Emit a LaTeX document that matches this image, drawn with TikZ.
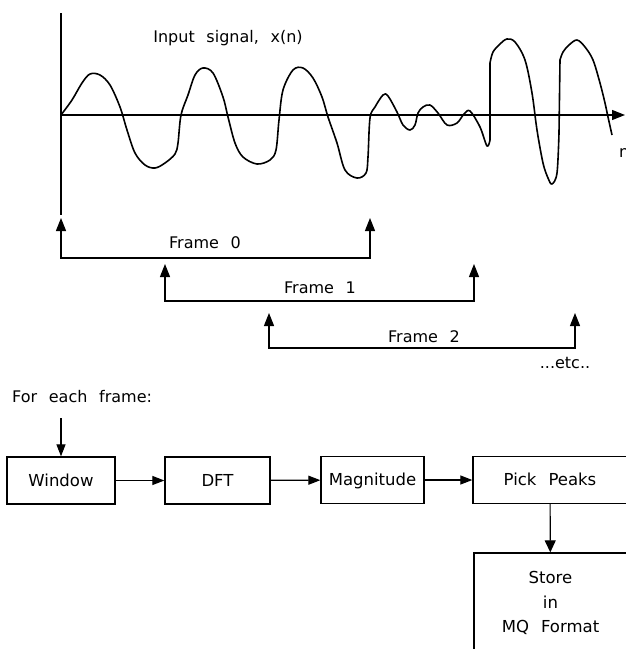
\documentclass[tikz,border=0pt]{standalone}
\usepackage{fontspec}
\setmainfont[WordSpace=2.3]{DejaVu Sans}
\usepackage{tikz}
\usetikzlibrary{arrows.meta}
\tikzset{
  %% ── Boites ───────────────────────────────────────────────────────────
  %% Une seule sorte de boite : trait noir, texte centre.
  bloc/.style        = {draw=black, line width=1.3pt, minimum height=47pt,
                        inner sep=2pt, align=center,
                        font=\fontsize{16.5}{24.5}\selectfont},
  blocLigne/.style   = {bloc, text height=14pt, text depth=3pt},
  %%
  %% ── Fleches ──────────────────────────────────────────────────────────
  fleche/.style      = {-{Triangle[length=12pt, width=9pt]}, line width=1.2pt},
  flecheCadre/.style = {{Triangle[length=13pt, width=10pt]}-{Triangle[length=13pt, width=10pt]},
                        line width=1.1pt},
  axe/.style         = {line width=1.3pt},
  trace/.style       = {line width=1.6pt, line join=round, smooth, tension=0.55},
  %%
  %% ── Texte ────────────────────────────────────────────────────────────
  etiquette/.style   = {font=\fontsize{16}{19}\selectfont, inner sep=0pt},
}

\begin{document}
\begin{tikzpicture}[x=1pt, y=-1pt]

\useasboundingbox (0,0) rectangle (626,649);
\fill[white] (0,0) rectangle (626,649);
\clip (0,0) rectangle (626,649);

%% Les axes du signal.
\coordinate (haut) at (61,13);
\coordinate (bas) at (61,215);
\coordinate (origine) at (61,115);
\coordinate (finAxe) at (625,115);
\draw[axe] (haut) -- (bas);
\draw[axe, -{Triangle[length=13pt, width=10pt]}] (origine) -- (finAxe);
\node[etiquette, anchor=west] (temps) at (619,153) {n};
\node[etiquette] (titreSignal) at (228,38) {Input signal, x(n)};

%% Le signal x(n), en trois morceaux (deux montees presque verticales).
\draw[trace] plot coordinates {(61,115) (72,100) (82,83) (90,74) (100,75)
  (110,85) (120,107) (127,130) (135,153) (145,165) (155,168) (165,163)
  (175,154) (178,143) (181,115) (188,95) (195,75) (203,68) (213,73)
  (223,97) (228,117) (235,143) (243,157) (257,164) (270,160) (276,150)
  (279,120) (283,90) (293,70) (303,68) (313,78) (322,97) (328,117)
  (337,143) (345,170) (357,178) (366,173) (368,157) (370,118) (375,107)
  (383,95) (388,96) (397,112) (403,125) (410,130) (415,125) (418,113)
  (423,107) (430,105) (438,113) (447,125) (457,123) (464,114) (470,111)
  (480,127) (487,146) (490,140)};
\draw[trace] (490,140) -- (490,63);
\draw[trace] plot coordinates {(490,63) (493,52) (500,44) (507,39) (515,42)
  (525,60) (532,93) (537,130) (543,163) (548,178) (552,184) (557,173)
  (559,133)};
\draw[trace] (559,133) -- (560,60);
\draw[trace] plot coordinates {(560,60) (563,52) (569,45) (577,40) (585,47)
  (593,60) (600,83) (605,103) (608,117) (612,135)};

%% Les trames qui se chevauchent.
\foreach \i/\xg/\xd/\yh/\yb/\xl/\yl in {0/61/370/218/258/205/243,
                                        1/165/474/264/301/320/288,
                                        2/269/575/313/348/424/337} {
  \coordinate (cadre\i g) at (\xg,\yh);
  \coordinate (cadre\i d) at (\xd,\yh);
  \coordinate (cadre\i b) at (\xd,\yb);
  \draw[flecheCadre] (cadre\i g) |- (cadre\i b) -- (cadre\i d);
  \node[etiquette] (titre\i) at (\xl,\yl) {Frame \i};
}
\node[etiquette] (suite) at (565,363) {...etc..};

%% La chaine de traitement, pour chaque trame.
\node[etiquette, anchor=west] (pourChaque) at (12,397) {For each frame:};
\node[blocLigne, minimum width=108pt] (fenetre) at (61,480.5) {Window};
\node[blocLigne, minimum width=105pt] (tfd) at (217.5,480.5) {DFT};
\node[blocLigne, minimum width=103pt] (module) at (372.5,480) {Magnitude};
\node[blocLigne, minimum width=154pt] (pics) at (550,480) {Pick Peaks};
\node[bloc, minimum width=153pt, minimum height=100pt] (stockage) at (550.5,603)
     {Store\\in\\MQ Format};

\coordinate (entree) at (61,418);
\draw[fleche] (entree) -- (fenetre.north);
\foreach \a/\b in {fenetre/tfd, tfd/module, module/pics}
  \draw[fleche] (\a) -- (\b);
\draw[fleche, -{Triangle[length=12pt, width=11pt]}] (pics) -- (stockage);

\end{tikzpicture}
\end{document}
